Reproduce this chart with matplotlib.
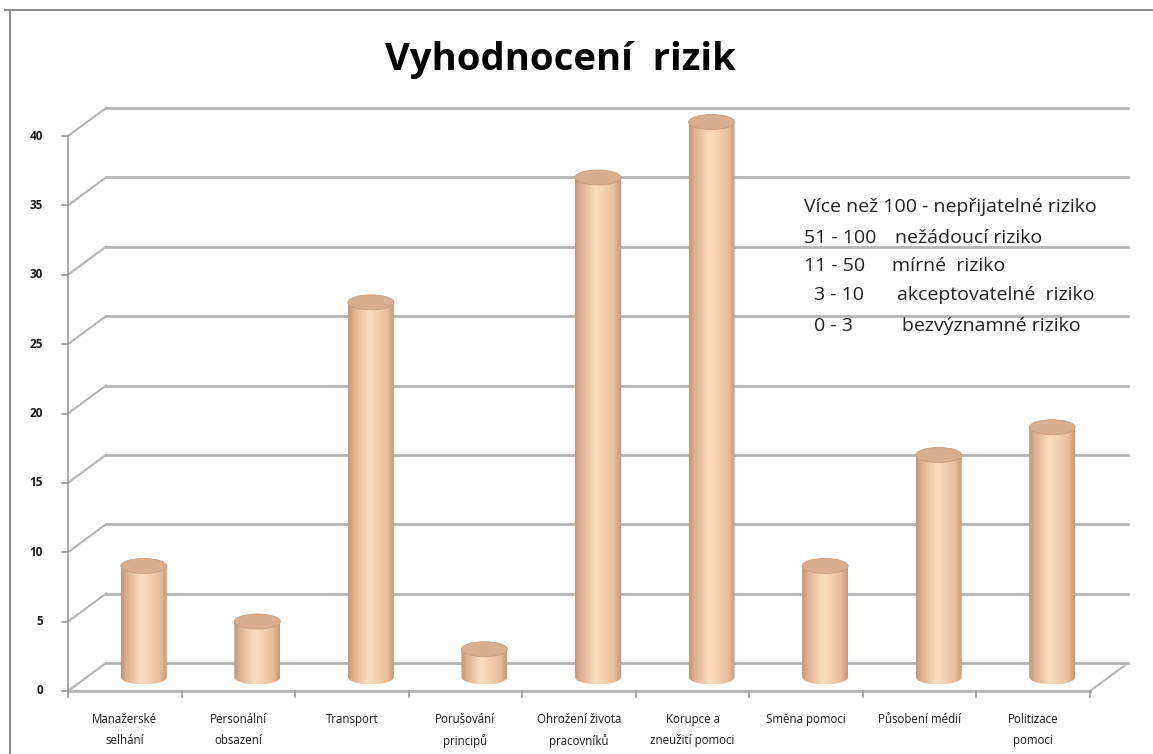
import numpy as np
import matplotlib
matplotlib.use("Agg")
import matplotlib.pyplot as plt
from matplotlib.patches import Ellipse, PathPatch
from matplotlib.path import Path
from matplotlib.lines import Line2D

# data
kategorie = ["Manažerské\nselhání", "Personální\nobsazení", "Transport",
             "Porušování\nprincipů", "Ohrožení života\npracovníků",
             "Korupce a\nzneužití pomoci", "Směna pomoci", "Působení médií",
             "Politizace\npomoci"]
hodnoty = [8, 4, 27, 2, 36, 40, 8, 16, 18]
y_ticks = [0, 5, 10, 15, 20, 25, 30, 35, 40]
legenda_cisla = ["Více než 100 - nepřijatelné riziko", "51 - 100", "11 - 50", "3 - 10", "0 - 3"]
legenda_text = ["", "nežádoucí riziko", "mírné  riziko", "akceptovatelné  riziko", "bezvýznamné riziko"]

plt.rcParams['font.family'] = ['Open Sans', 'DejaVu Sans']

W, H = 1153, 754
fig = plt.figure(figsize=(W / 100, H / 100), dpi=100)

# plot area in pixels (front plane)
x0, x1, ytop, ybot = 68, 1090, 136, 691
ax = fig.add_axes([x0 / W, (H - ybot) / H, (x1 - x0) / W, (ybot - ytop) / H])
n = len(hodnoty)
xmin, xmax, ymax = -0.5, n - 0.5, 40
px_x = (x1 - x0) / n
px_y = (ybot - ytop) / ymax
dx = 38 / px_x      # depth offset
dy = 28 / px_y

grid_c = '#b4b4b4'
axis_c = '#9a9a9a'

# back wall gridlines + side diagonals
for v in y_ticks:
    ax.plot([xmin + dx, xmax + dx], [v + dy, v + dy], color=grid_c, lw=2, clip_on=False, zorder=1)
    ax.plot([xmin, xmin + dx], [v, v + dy], color=grid_c, lw=1.5, clip_on=False, zorder=1)
    ax.plot([xmin - 0.05, xmin], [v, v], color=axis_c, lw=1.2, clip_on=False, zorder=1)
# floor
ax.plot([xmax, xmax + dx], [0, dy], color=grid_c, lw=1.5, clip_on=False, zorder=1)
ax.plot([xmin, xmax], [0, 0], color=grid_c, lw=2, clip_on=False, zorder=1)
ax.plot([xmin, xmin], [0, ymax], color=axis_c, lw=1.2, clip_on=False, zorder=1)
for i in range(n + 1):
    ax.plot([xmin + i, xmin + i], [0, -0.45], color=axis_c, lw=1.2, clip_on=False, zorder=1)

# cylinders
bw = 46 / px_x
eh = 15 / px_y
t = np.linspace(0, 1, 200)
r = np.interp(t, [0, 0.12, 0.45, 0.85, 1], [196, 222, 255, 232, 200])
g = np.interp(t, [0, 0.12, 0.45, 0.85, 1], [150, 176, 222, 190, 152])
b = np.interp(t, [0, 0.12, 0.45, 0.85, 1], [118, 142, 192, 156, 120])
grad = np.dstack([r, g, b]).astype(np.uint8) / 255.0
grad = np.repeat(grad, 2, axis=0)

for i, v in enumerate(hodnoty):
    cx = i + dx / 2
    base = dy / 2
    top = v + dy / 2
    L, R = cx - bw / 2, cx + bw / 2
    ang = np.linspace(np.pi, 2 * np.pi, 40)
    arc = np.column_stack([cx + bw / 2 * np.cos(ang), base + eh / 2 * np.sin(ang)])
    verts = np.vstack([[L, top], [L, base], arc, [R, base], [R, top], [L, top]])
    clip = PathPatch(Path(verts), transform=ax.transData, facecolor='none', edgecolor='none')
    ax.add_patch(clip)
    clip.set_clip_on(False)
    im = ax.imshow(grad, extent=[L, R, base - eh / 2, top], aspect='auto',
                   interpolation='bilinear', zorder=3)
    im.set_clip_path(clip)
    im.set_clip_box(fig.bbox)
    ax.add_patch(Ellipse((cx, top), bw, eh, angle=0, facecolor='#d9ae8e',
                         edgecolor='#c99c7c', lw=0.6, zorder=4, clip_on=False))

ax.set_xlim(xmin, xmax)
ax.set_ylim(0, ymax)
ax.axis('off')

# tick labels
for v in y_ticks:
    ax.text(xmin - 0.22, v, str(v), ha='right', va='center', fontsize=8.5,
            fontweight='bold', color='#1a1a1a', clip_on=False)
for i, lab in enumerate(kategorie):
    ax.text(i, -1.6, lab, ha='center', va='top', fontsize=8.3, color='#1a1a1a',
            linespacing=1.75, clip_on=False)

# title
fig.text(560 / W, 1 - 60 / H, "Vyhodnocení  rizik", ha='center', va='center',
         fontsize=27.5, fontweight='bold', color='black')

# text box with risk levels
ys = [207, 238, 266, 295, 326]
xs_num = [804, 804, 804, 814, 814]
xs_txt = [None, 895, 892, 897, 902]
for k in range(5):
    fig.text(xs_num[k] / W, 1 - ys[k] / H, legenda_cisla[k], ha='left', va='center',
             fontsize=14, color='#222222')
    if xs_txt[k]:
        fig.text(xs_txt[k] / W, 1 - ys[k] / H, legenda_text[k], ha='left', va='center',
                 fontsize=14, color='#222222')

# outer frame
fig.add_artist(Line2D([5 / W, 1], [1 - 10 / H, 1 - 10 / H], color='#8c8c8c', lw=1.5))
fig.add_artist(Line2D([10 / W, 10 / W], [0, 1 - 10 / H], color='#8c8c8c', lw=1.5))

fig.savefig("out.png", dpi=100)
